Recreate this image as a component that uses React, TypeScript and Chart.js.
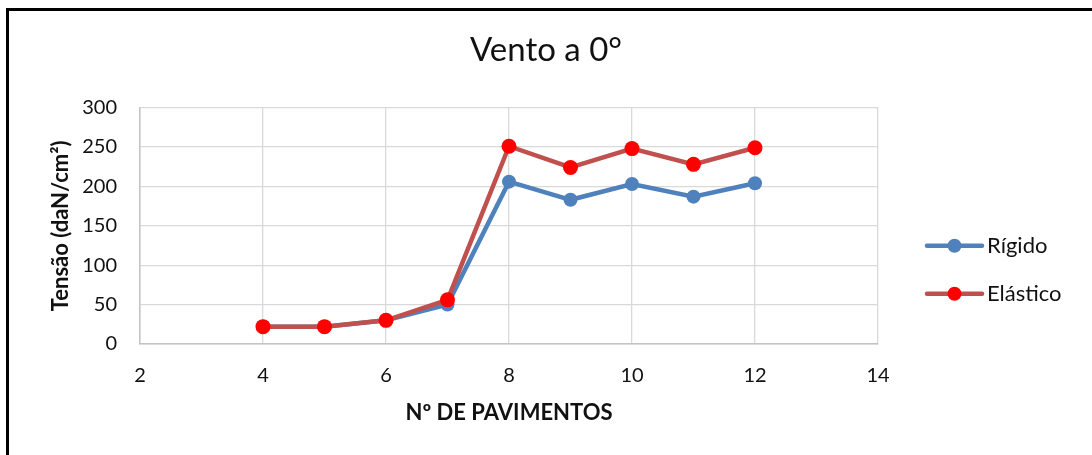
import React, { useEffect, useRef } from "react";
import { Chart, registerables } from "chart.js";

Chart.register(...registerables);

const floors = [4, 5, 6, 7, 8, 9, 10, 11, 12];
const rigido = [22, 22, 30, 50, 206, 183, 203, 187, 204];
const elastico = [22, 22, 30, 56, 251, 224, 248, 228, 249];
const xTicks = [2, 4, 6, 8, 10, 12, 14];
const yTicks = [0, 50, 100, 150, 200, 250, 300];
const titleText = "Vento a 0°";
const xTitle = "Nº DE PAVIMENTOS";
const yTitle = "Tensão (daN/cm²)";
const seriesNames = ["Rígido", "Elástico"];

const FONT = "Lato, 'Open Sans', sans-serif";
const TEXT = "#111111";

const legendPlugin = {
  id: "customLegend",
  afterDraw(chart: any) {
    const { ctx, chartArea } = chart;
    const baseX = chartArea.right + 49;
    const midY = (chartArea.top + chartArea.bottom) / 2 + 44;
    const gap = 48;
    const ds = chart.data.datasets.slice().sort((a: any, b: any) => a.legendIndex - b.legendIndex);
    ctx.save();
    ds.forEach((d: any, i: number) => {
      const y = midY - gap / 2 + i * gap;
      ctx.strokeStyle = d.borderColor;
      ctx.lineWidth = 4.5;
      ctx.lineCap = "round";
      ctx.beginPath();
      ctx.moveTo(baseX, y);
      ctx.lineTo(baseX + 55, y);
      ctx.stroke();
      ctx.fillStyle = d.pointBackgroundColor;
      ctx.beginPath();
      ctx.arc(baseX + 27.5, y, 7, 0, Math.PI * 2);
      ctx.fill();
      ctx.fillStyle = TEXT;
      ctx.font = `22px ${FONT}`;
      ctx.textBaseline = "middle";
      ctx.textAlign = "left";
      ctx.fillText(d.label, baseX + 60, y);
    });
    ctx.restore();
  },
};

export default function App() {
  const ref = useRef<HTMLCanvasElement>(null);

  useEffect(() => {
    if (!ref.current) return;
    const chart = new Chart(ref.current, {
      type: "line",
      data: {
        datasets: [
          {
            label: seriesNames[0],
            data: floors.map((x, i) => ({ x, y: rigido[i] })),
            borderColor: "#4f81bd",
            backgroundColor: "#4f81bd",
            pointBackgroundColor: "#4f81bd",
            pointBorderColor: "#4f81bd",
            borderWidth: 4.5,
            pointRadius: 7,
            pointBorderWidth: 0,
            order: 2,
            legendIndex: 0,
          } as any,
          {
            label: seriesNames[1],
            data: floors.map((x, i) => ({ x, y: elastico[i] })),
            borderColor: "#c0504d",
            backgroundColor: "#ff0000",
            pointBackgroundColor: "#ff0000",
            pointBorderColor: "#ff0000",
            borderWidth: 4.5,
            pointRadius: 7.5,
            pointBorderWidth: 0,
            order: 1,
            legendIndex: 1,
          } as any,
        ],
      },
      options: {
        animation: false,
        responsive: false,
        maintainAspectRatio: false,
        layout: { padding: { left: 0, right: 0, top: 0, bottom: 0 } },
        plugins: {
          legend: { display: false },
          tooltip: { enabled: false },
          title: {
            display: true,
            text: titleText,
            color: TEXT,
            font: { family: FONT, size: 33, weight: "normal" },
            padding: { top: 31, bottom: 37 },
          },
        },
        scales: {
          x: {
            type: "linear",
            min: xTicks[0],
            max: xTicks[xTicks.length - 1],
            afterBuildTicks: (s: any) => {
              s.ticks = xTicks.map((v) => ({ value: v }));
            },
            afterFit: (s: any) => {
              s.height = 111;
            },
            ticks: {
              color: TEXT,
              font: { family: FONT, size: 20 },
              padding: 20,
              maxRotation: 0,
            },
            grid: { color: "#d9d9d9", lineWidth: 1.3, drawTicks: false },
            border: { color: "#c4c4c4", width: 1.5 },
            title: {
              display: true,
              text: xTitle,
              color: TEXT,
              font: { family: FONT, size: 22, weight: "bold" },
              padding: { top: 0, bottom: 29 },
            },
          },
          y: {
            type: "linear",
            position: "left",
            min: yTicks[0],
            max: yTicks[yTicks.length - 1],
            afterBuildTicks: (s: any) => {
              s.ticks = yTicks.map((v) => ({ value: v }));
            },
            afterFit: (s: any) => {
              s.width = 140;
            },
            ticks: {
              color: TEXT,
              font: { family: FONT, size: 20 },
              padding: 23,
            },
            grid: { color: "#d9d9d9", lineWidth: 1.3, drawTicks: false },
            border: { color: "#c4c4c4", width: 1.5 },
            title: {
              display: true,
              text: yTitle,
              color: TEXT,
              font: { family: FONT, size: 22, weight: "bold" },
              padding: { top: 48, bottom: 0 },
            },
          },
          legendSpace: {
            type: "linear",
            position: "right",
            display: true,
            afterFit: (s: any) => {
              s.width = 214;
            },
            ticks: { display: false },
            grid: { display: false },
            border: { display: false },
          } as any,
        },
      },
      plugins: [legendPlugin],
    });
    return () => chart.destroy();
  }, []);

  return (
    <div
      style={{
        position: "fixed",
        left: 0,
        top: 0,
        width: 1092,
        height: 455,
        overflow: "hidden",
        background: "#ffffff",
      }}
    >
      <div
        style={{
          position: "absolute",
          left: 6,
          top: 8,
          width: 1300,
          height: 700,
          borderLeft: "3px solid #000",
          borderTop: "3px solid #000",
          boxSizing: "border-box",
        }}
      />
      <canvas
        ref={ref}
        width={1092}
        height={455}
        style={{ position: "absolute", left: 0, top: 0, width: 1092, height: 455 }}
      />
    </div>
  );
}
